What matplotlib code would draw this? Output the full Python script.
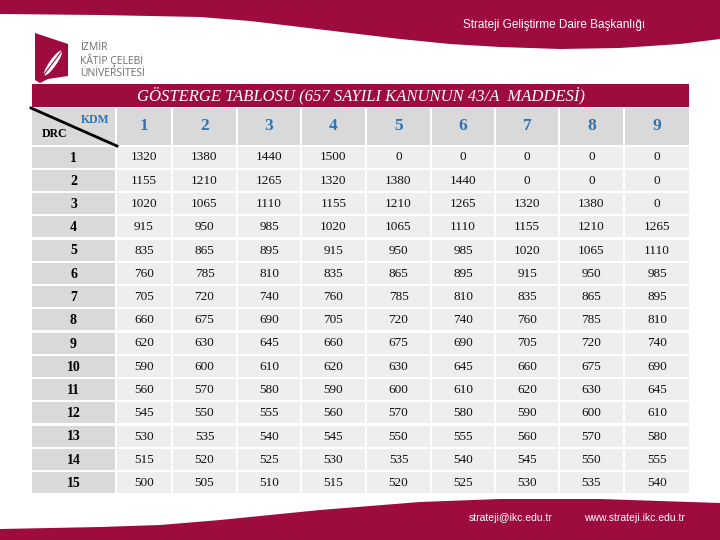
import matplotlib
matplotlib.use("Agg")
import matplotlib.pyplot as plt
from matplotlib.patches import Rectangle, Polygon, Ellipse
import numpy as np

# table contents
title = "GÖSTERGE TABLOSU (657 SAYILI KANUNUN 43/A  MADDESİ)"
kademe = ["1", "2", "3", "4", "5", "6", "7", "8", "9"]
derece = ["1", "2", "3", "4", "5", "6", "7", "8", "9", "10", "11", "12", "13", "14", "15"]
values = [
    [1320, 1380, 1440, 1500, 0, 0, 0, 0, 0],
    [1155, 1210, 1265, 1320, 1380, 1440, 0, 0, 0],
    [1020, 1065, 1110, 1155, 1210, 1265, 1320, 1380, 0],
    [915, 950, 985, 1020, 1065, 1110, 1155, 1210, 1265],
    [835, 865, 895, 915, 950, 985, 1020, 1065, 1110],
    [760, 785, 810, 835, 865, 895, 915, 950, 985],
    [705, 720, 740, 760, 785, 810, 835, 865, 895],
    [660, 675, 690, 705, 720, 740, 760, 785, 810],
    [620, 630, 645, 660, 675, 690, 705, 720, 740],
    [590, 600, 610, 620, 630, 645, 660, 675, 690],
    [560, 570, 580, 590, 600, 610, 620, 630, 645],
    [545, 550, 555, 560, 570, 580, 590, 600, 610],
    [530, 535, 540, 545, 550, 555, 560, 570, 580],
    [515, 520, 525, 530, 535, 540, 545, 550, 555],
    [500, 505, 510, 515, 520, 525, 530, 535, 540],
]

# slide texts
dept_text = "Strateji Geliştirme Daire Başkanlığı"
logo_lines = ["İZMİR", "KÂTİP ÇELEBİ", "ÜNİVERSİTESİ"]
footer_mail = "strateji@ikc.edu.tr"
footer_web = "www.strateji.ikc.edu.tr"

maroon = "#9d0b3f"
header_grey = "#d9d9d9"
cell_grey = "#eeeeee"
blue = "#2e74b5"
sans = ["Liberation Sans", "DejaVu Sans"]
serif = ["Liberation Serif", "DejaVu Serif"]

fig = plt.figure(figsize=(7.2, 5.4), dpi=100)
ax = fig.add_axes([0, 0, 1, 1])
ax.set_xlim(0, 720)
ax.set_ylim(540, 0)
ax.axis("off")

# top and bottom waves of the slide template
top_x = [0, 100, 200, 250, 300, 350, 400, 450, 500, 560, 620, 680, 720]
top_y = [14, 15, 17, 21, 27, 33, 39, 44, 47, 49, 48, 44, 39]
ax.add_patch(Polygon([(0, 0)] + list(zip(top_x, top_y)) + [(720, 0)], color=maroon, lw=0))
bot_x = [0, 100, 160, 220, 260, 320, 370, 420, 500, 600, 720]
bot_y = [529, 527, 525, 520, 516, 510, 506, 502, 499, 499, 503]
ax.add_patch(Polygon([(0, 540)] + list(zip(bot_x, bot_y)) + [(720, 540)], color=maroon, lw=0))

ax.text(554, 25, dept_text, color="white", fontsize=8.5, family=sans, ha="center", va="center")
ax.text(511, 518, footer_mail, color="white", fontsize=7.5, family=sans, ha="center", va="center")
ax.text(634, 518, footer_web, color="white", fontsize=7.5, family=sans, ha="center", va="center")

# logo
ax.add_patch(Polygon([(35, 33), (68, 44), (68, 76), (48, 79), (40, 83), (35, 80)], color=maroon, lw=0))
ax.add_patch(Ellipse((53, 63), 30, 7, angle=-55, color="white", lw=0))
ax.plot([40, 64], [80, 48], color=maroon, lw=0.8)
for i, line in enumerate(logo_lines):
    ax.text(80, 48 + 12.5 * i, line, color="#6d6e71", fontsize=7.5, family=["Open Sans", "DejaVu Sans"],
            ha="left", va="center")

# title bar
left, right = 32, 689
ax.add_patch(Rectangle((left, 84), right - left, 23, color=maroon, lw=0))
ax.text((left + right) / 2, 96, title, color="white", fontsize=12, family=serif, style="italic",
        ha="center", va="center")

# table geometry
label_w = 83
col_edges = [117, 173, 238, 302, 367, 432, 496, 560, 625, 691]
head_top, head_h = 108, 36.5
row_top, row_pitch, row_h = 146.5, 23.25, 21

# header row
ax.add_patch(Rectangle((left, head_top), label_w, head_h, color=header_grey, lw=0))
ax.plot([31, 117], [108, 146], color="black", lw=2)
ax.text(95, 120, "KDM", color=blue, fontsize=8.5, family=serif, weight="bold", ha="center", va="center")
ax.text(54, 134, "DRC", color="black", fontsize=8.5, family=serif, weight="bold", ha="center", va="center")
for j, k in enumerate(kademe):
    x0, x1 = col_edges[j], col_edges[j + 1] - 2
    ax.add_patch(Rectangle((x0, head_top), x1 - x0, head_h, color=header_grey, lw=0))
    ax.text((x0 + x1) / 2, head_top + head_h / 2, k, color=blue, fontsize=12.5, family=serif,
            weight="bold", ha="center", va="center")

# data rows
for i, d in enumerate(derece):
    y0 = row_top + row_pitch * i
    ax.add_patch(Rectangle((left, y0), label_w, row_h, color=header_grey, lw=0))
    ax.text(left + label_w / 2, y0 + row_h / 2 + 1, d, color="black", fontsize=10, family=serif,
            weight="bold", ha="center", va="center")
    for j, v in enumerate(values[i]):
        x0, x1 = col_edges[j], col_edges[j + 1] - 2
        ax.add_patch(Rectangle((x0, y0), x1 - x0, row_h, color=cell_grey, lw=0))
        ax.text((x0 + x1) / 2, y0 + row_h / 2 + 0.5, str(v), color="#111111", fontsize=9.5, family=serif,
                ha="center", va="center")

fig.savefig("out.png", dpi=100)
